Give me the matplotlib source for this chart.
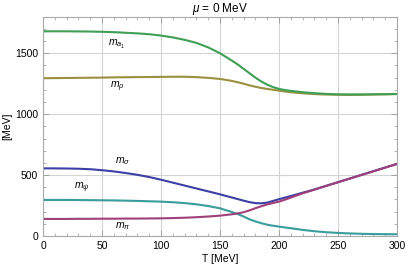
import matplotlib
matplotlib.use("Agg")
import matplotlib.pyplot as plt
from matplotlib.ticker import MultipleLocator

plt.rcParams['font.family'] = ['Liberation Sans', 'DejaVu Sans']
plt.rcParams['mathtext.fontset'] = 'custom'
plt.rcParams['mathtext.it'] = 'Liberation Sans:italic'
plt.rcParams['mathtext.rm'] = 'Liberation Sans'

T = [0, 10, 20, 30, 40, 50, 60, 70, 80, 90, 100, 110, 120, 130, 140, 150, 160, 165,
     170, 175, 180, 185, 190, 195, 200, 205, 210, 220, 230, 240, 250, 260, 270, 280, 290, 300]

m_a1 = [1680, 1680, 1680, 1679, 1678, 1676, 1673, 1668, 1663, 1656, 1645, 1630, 1610, 1585,
        1548, 1500, 1440, 1408, 1372, 1336, 1300, 1268, 1242, 1222, 1207, 1198, 1191, 1180,
        1172, 1166, 1163, 1162, 1162, 1163, 1164, 1166]
m_rho = [1295, 1296, 1297, 1298, 1299, 1300, 1302, 1303, 1304, 1305, 1306, 1307, 1307, 1304,
         1298, 1289, 1273, 1262, 1250, 1236, 1225, 1215, 1207, 1200, 1193, 1186, 1180, 1171,
         1165, 1161, 1159, 1158, 1159, 1161, 1163, 1165]
m_sigma = [555, 555, 554, 552, 548, 540, 530, 517, 502, 484, 462, 438, 414, 390, 366, 342,
           316, 303, 290, 278, 270, 268, 274, 288, 302, 315, 328, 355, 382, 412, 442, 472,
           502, 532, 562, 592]
m_pi = [140, 140, 140, 141, 141, 142, 142, 143, 143, 144, 145, 147, 150, 154, 160, 167, 178,
        185, 195, 210, 228, 244, 259, 271, 282, 298, 315, 350, 380, 411, 441, 471, 501, 531,
        561, 591]
m_psi = [296, 296, 296, 295, 294, 293, 292, 290, 288, 285, 282, 277, 270, 260, 246, 227, 197,
         180, 160, 137, 120, 105, 93, 84, 77, 70, 64, 50, 39, 31, 25, 21, 18, 16, 15, 14]

labels = [r'$m_{a_1}$', r'$m_{\rho}$', r'$m_{\sigma}$', r'$m_{\psi}$', r'$m_{\pi}$']
label_pos = [(55, 1575), (57, 1222), (61, 616), (26, 394), (61, 82)]

fig = plt.figure(figsize=(4.07, 2.69), dpi=100)
ax = fig.add_axes([0.1057, 0.1227, 0.8697, 0.8130])

lw = 1.5
ax.plot(T, m_rho, color='#9a9040', lw=lw)
ax.plot(T, m_a1, color='#3fa055', lw=lw)
ax.plot(T, m_sigma, color='#3d3fa6', lw=lw)
ax.plot(T, m_psi, color='#3a9c9c', lw=lw)
ax.plot(T, m_pi, color='#a0407a', lw=lw)

for lab, (x, y) in zip(labels, label_pos):
    ax.text(x, y, lab, fontsize=7.5, ha='left', va='center')

ax.set_xlim(0, 300)
ax.set_ylim(0, 1795)
ax.xaxis.set_major_locator(MultipleLocator(50))
ax.xaxis.set_minor_locator(MultipleLocator(10))
ax.yaxis.set_major_locator(MultipleLocator(500))
ax.yaxis.set_minor_locator(MultipleLocator(100))
ax.grid(True, which='major', color='#d4d4d4', lw=0.8)
ax.set_axisbelow(True)
ax.tick_params(which='both', direction='in', top=True, right=True, colors='#999999',
               labelcolor='black', labelsize=7.5)
ax.tick_params(which='major', length=4, width=0.6)
ax.tick_params(which='minor', length=2, width=0.5)
for s in ax.spines.values():
    s.set_color('#aaaaaa')
    s.set_linewidth(0.8)

ax.set_title(r'$\mu$ = 0 MeV', fontsize=8.5, pad=3)
ax.set_xlabel('T [MeV]', fontsize=7.5, labelpad=2)
ax.set_ylabel('[MeV]', fontsize=7.5, labelpad=2)

fig.savefig('out.png', dpi=100)
